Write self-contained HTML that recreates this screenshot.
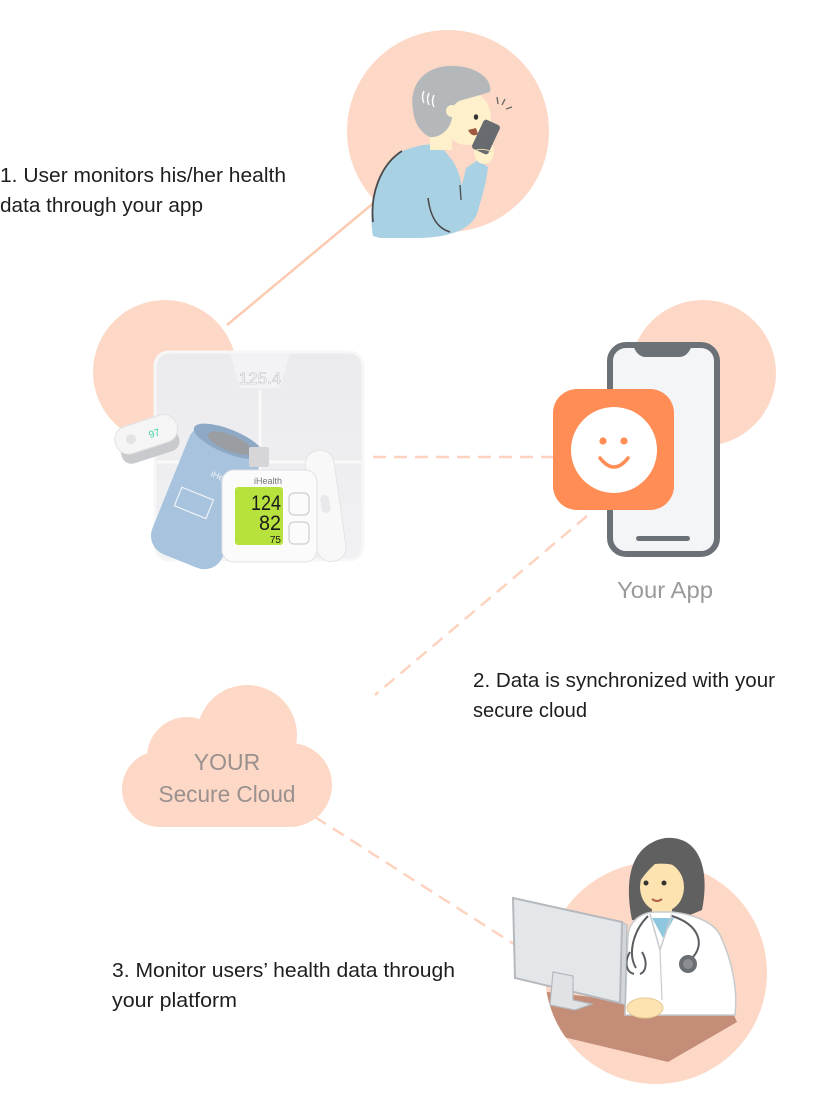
<!DOCTYPE html>
<html><head><meta charset="utf-8">
<style>
html,body{margin:0;padding:0;background:#fff;}
svg{display:block}
text{font-family:"Liberation Sans",sans-serif;}
</style></head><body>
<svg width="836" height="1110" viewBox="0 0 836 1110" xmlns="http://www.w3.org/2000/svg">
<defs>
<clipPath id="docClip"><circle cx="656" cy="973" r="111"/></clipPath>
<linearGradient id="scaleG" x1="0" y1="0" x2="0" y2="1">
<stop offset="0" stop-color="#ebebed"/><stop offset="1" stop-color="#f1f1f3"/>
</linearGradient>
</defs>

<!-- background circles -->
<circle cx="448" cy="131" r="101" fill="#fdd8c6"/>
<circle cx="165" cy="372" r="72" fill="#fdd8c6"/>
<circle cx="703" cy="373" r="73" fill="#fdd8c6"/>
<circle cx="656" cy="973" r="111" fill="#fdd8c6"/>

<!-- connectors -->
<line x1="227" y1="325" x2="376" y2="201" stroke="#fccbb1" stroke-width="2.5"/>
<line x1="373" y1="457" x2="553" y2="457" stroke="#fdd3bf" stroke-width="2.5" stroke-dasharray="13 8"/>
<line x1="587" y1="516" x2="375" y2="695" stroke="#fdd3bf" stroke-width="2.5" stroke-dasharray="13 8"/>
<line x1="315" y1="817" x2="517" y2="946" stroke="#fdd3bf" stroke-width="2.5" stroke-dasharray="13 8"/>

<!-- cloud -->
<g fill="#fdd8c6">
<circle cx="247" cy="735" r="50"/>
<circle cx="187" cy="757" r="40"/>
<circle cx="160" cy="789" r="38"/>
<circle cx="290" cy="785" r="42"/>
<rect x="160" y="760" width="132" height="67"/>
</g>
<text x="227" y="770" font-size="23" fill="#9a908e" text-anchor="middle">YOUR</text>
<text x="227" y="802" font-size="23" fill="#9a908e" text-anchor="middle" textLength="137" lengthAdjust="spacingAndGlyphs">Secure Cloud</text>

<!-- top person -->
<g>
<path d="M373,236 C367,205 378,165 400,152 C415,146 428,143 440,145 L452,160 C458,168 460,178 462,185 L466,168 L478,160 L488,167 C486,185 481,200 477,214 C470,230 450,237 420,238 L380,238 Z" fill="#a8d1e4"/>
<path d="M373,222 C370,195 380,165 402,151" fill="none" stroke="#4a4a4a" stroke-width="1.8"/>
<path d="M428,198 C430,215 436,228 450,232" fill="none" stroke="#4a4a4a" stroke-width="1.5"/>
<path d="M460,185 L461,200" fill="none" stroke="#4a4a4a" stroke-width="1.3"/>
<rect x="430" y="128" width="22" height="22" fill="#fdf0ca"/>
<ellipse cx="467" cy="118" rx="24" ry="27" fill="#fdf0ca"/>
<path d="M413,110 C408,80 430,64 455,66 C478,67 493,80 490,92 C480,95 470,98 462,100 C455,102 450,108 452,118 C450,130 440,138 430,137 C419,132 414,121 413,110 Z" fill="#b5b8bb"/>
<circle cx="452" cy="111" r="6" fill="#fdf0ca"/>
<ellipse cx="476" cy="117" rx="2.2" ry="2.8" fill="#333"/>
<path d="M468,130 Q472,138 478,134 L476,128 Z" fill="#a0583e"/>
<g stroke="#fff" stroke-width="1.4" fill="none">
<path d="M424,91 Q421,97 424,103"/><path d="M429,93 Q426,99 429,105"/><path d="M434,95 Q431,101 434,107"/>
</g>
<ellipse cx="484" cy="152" rx="10" ry="12" fill="#fdf0ca"/>
<g transform="rotate(25 486 137)"><rect x="477" y="121" width="18" height="32" rx="3" fill="#676b70"/></g>
<path d="M476,150 Q484,148 492,152" fill="none" stroke="#e8d9a8" stroke-width="1"/>
<g stroke="#666" stroke-width="1.3">
<line x1="497" y1="97" x2="498" y2="104"/><line x1="505" y1="99" x2="502" y2="105"/><line x1="512" y1="107" x2="506" y2="109"/>
</g>
</g>

<!-- devices -->
<g>
<rect x="155" y="352" width="208" height="208" rx="14" fill="url(#scaleG)" stroke="#f7f7f8" stroke-width="3"/>
<path d="M230,353 L290,353 L280,388 L240,388 Z" fill="#f3f3f5"/>
<text x="260" y="384" font-size="17" fill="#fff" stroke="#c4c4c8" stroke-width="0.6" text-anchor="middle">125.4</text>
<line x1="260" y1="390" x2="260" y2="558" stroke="#f9f9fa" stroke-width="3"/>
<line x1="157" y1="462" x2="361" y2="462" stroke="#f9f9fa" stroke-width="3"/>
<!-- oximeter -->
<g transform="rotate(-18 148 440)">
<rect x="118" y="436" width="60" height="22" rx="10" fill="#c9cacd"/>
<rect x="116" y="420" width="64" height="28" rx="13" fill="#f5f5f6" stroke="#e2e2e4"/>
<circle cx="132" cy="434" r="5" fill="#e3e3e5"/>
<text x="156" y="439" font-size="10" fill="#3fd0a8" text-anchor="middle">97</text>
</g>
<!-- cuff -->
<g transform="rotate(22 206 497)">
<rect x="168" y="428" width="76" height="138" rx="20" fill="#a7c3de"/>
<ellipse cx="206" cy="437" rx="37" ry="12" fill="#8ea9c6"/>
<ellipse cx="208" cy="438" rx="24" ry="8" fill="#9a9ea3"/>
<rect x="180" y="497" width="34" height="20" fill="none" stroke="#eef3f8" stroke-width="1.2"/>
<text x="216" y="476" font-size="9" fill="#eef3f8" text-anchor="middle">iHealth</text>
</g>
<rect x="249" y="447" width="20" height="20" rx="2" fill="#d6d6d9"/>
<!-- thermometer -->
<g transform="rotate(-8 325 505)">
<rect x="311" y="450" width="29" height="112" rx="14" fill="#f8f8f9" stroke="#e4e4e6"/>
<rect x="321" y="495" width="9" height="18" rx="4.5" fill="#e9e9eb"/>
</g>
<!-- BP monitor -->
<rect x="222" y="470" width="95" height="92" rx="12" fill="#fbfbfb" stroke="#e2e2e4"/>
<text x="268" y="484" font-size="9" fill="#777" text-anchor="middle">iHealth</text>
<rect x="235" y="487" width="48" height="58" rx="3" fill="#b7e13d"/>
<text x="281" y="510" font-size="21" fill="#1a1a1a" text-anchor="end" textLength="30" lengthAdjust="spacingAndGlyphs">124</text>
<text x="281" y="530" font-size="21" fill="#1a1a1a" text-anchor="end" textLength="22" lengthAdjust="spacingAndGlyphs">82</text>
<text x="281" y="543" font-size="10" fill="#1a1a1a" text-anchor="end">75</text>
<rect x="289" y="493" width="20" height="22" rx="5" fill="none" stroke="#cfcfd2" stroke-width="1.2"/>
<rect x="289" y="522" width="20" height="22" rx="5" fill="none" stroke="#cfcfd2" stroke-width="1.2"/>
</g>

<!-- phone -->
<rect x="610" y="345" width="107" height="209" rx="16" fill="#f4f5f7" stroke="#6c7178" stroke-width="6"/>
<path d="M633,345 Q637,357 646,357 L679,357 Q688,357 692,345 Z" fill="#6c7178"/>
<rect x="636" y="536" width="54" height="5" rx="2.5" fill="#6c7178"/>
<rect x="553" y="389" width="121" height="121" rx="24" fill="#ff8d55"/>
<circle cx="614" cy="450" r="43" fill="#fff"/>
<circle cx="603" cy="441" r="3.6" fill="#ff8d55"/>
<circle cx="624" cy="441" r="3.6" fill="#ff8d55"/>
<path d="M600,458 Q614,476 628,458" fill="none" stroke="#ff8d55" stroke-width="3.5" stroke-linecap="round"/>
<text x="665" y="598" font-size="23" fill="#9a9a9a" text-anchor="middle" textLength="96" lengthAdjust="spacingAndGlyphs">Your App</text>

<!-- doctor -->
<g clip-path="url(#docClip)">
<polygon points="530,990 733,1013 737,1022 668,1062 555,1035 530,1020" fill="#c38d78"/>
</g>
<path d="M632,920 C624,880 630,845 665,838 C700,835 710,870 702,910 L690,915 L645,922 Z" fill="#606060"/>
<rect x="652" y="900" width="20" height="22" fill="#fde3b0"/>
<ellipse cx="662" cy="887" rx="22" ry="25" fill="#fde3b0"/>
<path d="M638,884 C638,855 662,846 690,856 C700,862 702,872 700,880 C690,868 672,862 655,864 C648,870 642,878 638,884 Z" fill="#606060"/>
<circle cx="646" cy="883" r="2.5" fill="#333"/>
<circle cx="664" cy="883" r="2.5" fill="#333"/>
<path d="M652,899 Q657,903 662,899" fill="none" stroke="#b0604a" stroke-width="2"/>
<path d="M625,1015 L628,935 C630,918 645,912 655,912 L672,912 C690,914 712,920 720,935 C732,960 738,990 735,1015 Z" fill="#fff" stroke="#c8cbce" stroke-width="1.5"/>
<polygon points="652,918 674,918 663,938" fill="#8fc7de"/>
<path d="M650,914 L660,950 L672,914" fill="none" stroke="#c8cbce" stroke-width="1.5"/>
<path d="M660,950 L662,1000" fill="none" stroke="#c8cbce" stroke-width="1.2"/>
<path d="M648,916 C632,932 628,955 636,968 M672,916 C700,925 705,945 692,958" fill="none" stroke="#5a5e62" stroke-width="2"/>
<path d="M630,952 C624,962 626,972 634,974 M642,952 C648,962 646,972 640,974" fill="none" stroke="#5a5e62" stroke-width="2"/>
<circle cx="688" cy="964" r="9" fill="#6b6f73"/>
<circle cx="688" cy="964" r="5" fill="#8a8e92"/>
<polygon points="622,922 627,925 625,1005 620,1003" fill="#d2d6da" stroke="#b5b9bd" stroke-width="1"/>
<polygon points="513,898 622,922 620,1003 515,978" fill="#e4e7ea" stroke="#b5b9bd" stroke-width="2"/>
<polygon points="553,972 573,976 573,1000 592,1004 575,1010 550,1005" fill="#e0e3e6" stroke="#b5b9bd" stroke-width="1.2"/>
<ellipse cx="645" cy="1008" rx="18" ry="10" fill="#fde3b0" stroke="#e6c995" stroke-width="1"/>

<!-- labels -->
<g font-size="20.5" fill="#1e1e1e">
<text x="0" y="182" textLength="286" lengthAdjust="spacingAndGlyphs">1. User monitors his/her health</text>
<text x="0" y="212" textLength="203" lengthAdjust="spacingAndGlyphs">data through your app</text>
<text x="473" y="687" textLength="302" lengthAdjust="spacingAndGlyphs">2. Data is synchronized with your</text>
<text x="473" y="717" textLength="114" lengthAdjust="spacingAndGlyphs">secure cloud</text>
<text x="112" y="977" textLength="343" lengthAdjust="spacingAndGlyphs">3. Monitor users’ health data through</text>
<text x="112" y="1007" textLength="125" lengthAdjust="spacingAndGlyphs">your platform</text>
</g>
</svg>
</body></html>
